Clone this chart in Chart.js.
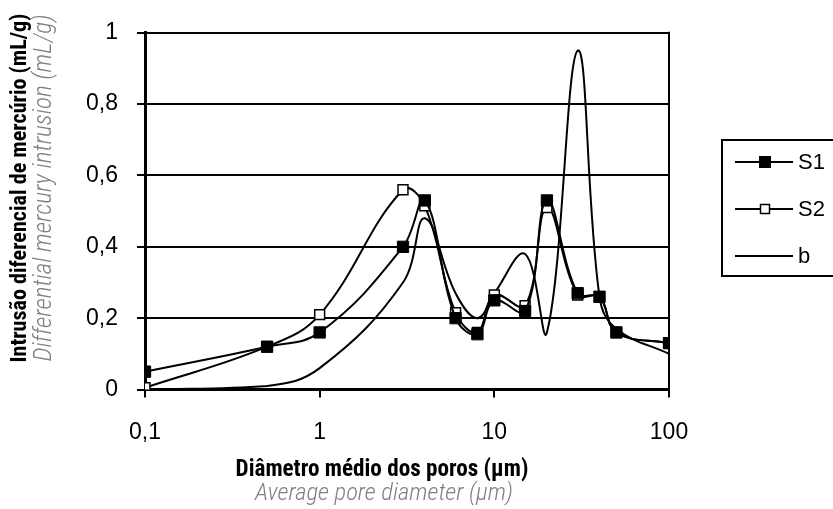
<!DOCTYPE html>
<html><head><meta charset="utf-8">
<script src="https://cdn.jsdelivr.net/npm/chart.js@4/dist/chart.umd.min.js"></script>
<style>html,body{margin:0;padding:0;background:#fff;overflow:hidden}#wrap{width:833px;height:509px}</style>
</head><body><div id="wrap"><canvas id="c" width="833" height="509"></canvas></div>
<script>
// ---- data ----
const diameters = [0.1, 0.5, 1, 3, 4, 6, 8, 10, 15, 20, 30, 40, 50, 100];
const s1Values  = [0.05, 0.12, 0.16, 0.40, 0.53, 0.20, 0.155, 0.25, 0.22, 0.53, 0.27, 0.26, 0.16, 0.13];
const s2Values  = [0.005, 0.12, 0.21, 0.56, 0.515, 0.215, 0.16, 0.265, 0.235, 0.51, 0.265, 0.26, 0.16, 0.13];
const bValues   = [0.0, 0.01, 0.06, 0.30, 0.48, 0.27, 0.20, 0.27, 0.38, 0.16, 0.95, 0.26, 0.17, 0.10];
const seriesLabels = ['S1', 'S2', 'b'];
const xTickValues = [0.1, 1, 10, 100];
const yTickValues = [0, 0.2, 0.4, 0.6, 0.8, 1];
const xTitle = 'Diâmetro médio dos poros (μm)';
const xSubtitle = 'Average pore diameter (μm)';
const yTitle = 'Intrusão diferencial de mercúrio (mL/g)';
const ySubtitle = 'Differential mercury intrusion (mL/g)';

const fmt = v => String(v).replace('.', ',');
const pts = vals => diameters.map((x, i) => ({x: x, y: vals[i]}));
const sansFam = "'Liberation Sans', Arial, sans-serif";
const condFam = "'Roboto Condensed', 'DejaVu Sans Condensed', sans-serif";
const tickFont = {family: sansFam, size: 23};

const styles = [
  {pointStyle: 'rect', pointRadius: 8, bg: '#000', bw: 1},
  {pointStyle: 'rect', pointRadius: 7, bg: '#fff', bw: 1.5},
  {pointStyle: false, pointRadius: 0, bg: '#000', bw: 0}
];

// draw text fitted to a target length (reference text extent)
function fitText(ctx, txt, style, target, x, y, color) {
  let size = 20;
  ctx.font = style + ' ' + size + 'px ' + condFam;
  const w = ctx.measureText(txt).width;
  size = Math.max(12, Math.min(28, size * target / w));
  ctx.font = style + ' ' + size.toFixed(2) + 'px ' + condFam;
  ctx.fillStyle = color;
  ctx.fillText(txt, x, y);
}

const decor = {
  id: 'decor',
  afterDraw(chart) {
    const ctx = chart.ctx, a = chart.chartArea;
    ctx.save();
    // right border of plot area
    ctx.strokeStyle = '#000'; ctx.lineWidth = 2;
    ctx.beginPath(); ctx.moveTo(a.right, a.top - 1); ctx.lineTo(a.right, a.bottom + 1); ctx.stroke();
    // x titles
    ctx.textAlign = 'center'; ctx.textBaseline = 'middle';
    fitText(ctx, xTitle, 'bold', 293, 382, 470, '#000');
    fitText(ctx, xSubtitle, 'italic 300', 258, 384, 494, '#808080');
    // y titles
    ctx.save(); ctx.translate(20.5, 188); ctx.rotate(-Math.PI / 2);
    fitText(ctx, yTitle, 'bold', 349, 0, 0, '#000');
    ctx.restore();
    ctx.save(); ctx.translate(45, 188); ctx.rotate(-Math.PI / 2);
    fitText(ctx, ySubtitle, 'italic 300', 347, 0, 0, '#808080');
    ctx.restore();
    // legend
    ctx.lineWidth = 2; ctx.strokeStyle = '#000';
    ctx.strokeRect(722, 140, 130, 136);
    const ys = [162, 209, 256];
    chart.data.datasets.forEach((ds, i) => {
      const y = ys[i];
      ctx.lineWidth = 2; ctx.strokeStyle = '#000';
      ctx.beginPath(); ctx.moveTo(735, y); ctx.lineTo(793, y); ctx.stroke();
      if (ds.pointRadius > 0) {
        const s = i === 0 ? 11 : 9;
        ctx.fillStyle = ds.pointBackgroundColor;
        ctx.fillRect(765 - s / 2, y - s / 2, s, s);
        ctx.lineWidth = ds.pointBorderWidth; ctx.strokeRect(765 - s / 2, y - s / 2, s, s);
      }
      ctx.fillStyle = '#000'; ctx.font = "22px " + sansFam;
      ctx.textAlign = 'left'; ctx.textBaseline = 'middle';
      ctx.fillText(ds.label, 798, y + 1);
    });
    ctx.restore();
  }
};

const values = [s1Values, s2Values, bValues];
new Chart(document.getElementById('c'), {
  type: 'line',
  data: {
    datasets: seriesLabels.map((lab, i) => ({
      label: lab,
      data: pts(values[i]),
      borderColor: '#000',
      borderWidth: 2,
      tension: 0.4,
      pointStyle: styles[i].pointStyle,
      pointRadius: styles[i].pointRadius,
      pointBackgroundColor: styles[i].bg,
      pointBorderColor: '#000',
      pointBorderWidth: styles[i].bw,
      fill: false
    }))
  },
  options: {
    responsive: false,
    animation: false,
    layout: {padding: {top: 26.5, right: 164, left: 0, bottom: 0}},
    plugins: {legend: {display: false}, tooltip: {enabled: false}},
    scales: {
      x: {
        type: 'logarithmic', min: 0.1, max: 100,
        afterBuildTicks: s => { s.ticks = xTickValues.map(v => ({value: v})); },
        afterFit: s => { s.height = 119.5; },
        ticks: {callback: v => fmt(v), font: tickFont, color: '#000', padding: 21, maxRotation: 0, autoSkip: false},
        grid: {drawOnChartArea: false, drawTicks: true, tickLength: 8, color: '#000', lineWidth: 2},
        border: {color: '#000', width: 3}
      },
      y: {
        min: 0, max: 1,
        afterBuildTicks: s => { s.ticks = yTickValues.map(v => ({value: v})); },
        afterFit: s => { s.width = 145; },
        ticks: {callback: v => fmt(v), font: tickFont, color: '#000', padding: 19},
        grid: {color: '#000', lineWidth: 2, tickLength: 8, drawTicks: true},
        border: {color: '#000', width: 3}
      }
    }
  },
  plugins: [decor]
});
</script>
</body></html>
